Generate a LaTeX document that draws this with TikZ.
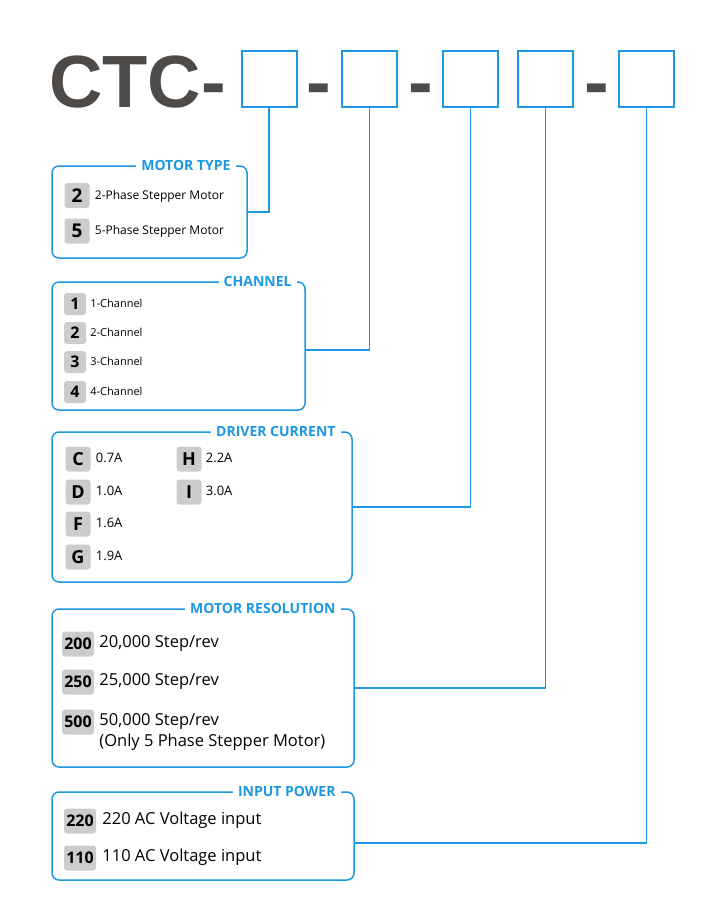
\documentclass[tikz,border=0pt]{standalone}
\usepackage{fontspec}
\setmainfont{Open Sans}
\newfontfamily\headfont{Liberation Sans}
\usetikzlibrary{positioning}

\definecolor{ctcblue}{RGB}{28,152,226}
\definecolor{ctcgray}{RGB}{77,74,72}
\definecolor{badgegray}{RGB}{204,204,204}
\newcommand{\pxsize}[1]{\fontsize{#1}{#1}\selectfont}

\begin{document}
\begin{tikzpicture}[
  x=1pt, y=-1pt,
  codebox/.style={draw=ctcblue, line width=2pt, minimum width=55pt, minimum height=56pt, inner sep=0pt},
  hyph/.style={text=ctcgray, font=\headfont\bfseries\pxsize{74}, inner sep=0pt, anchor=base},
  panel/.style={draw=ctcblue, line width=1.5pt, rounded corners=7pt, inner sep=0pt},
  title/.style={fill=white, text=ctcblue, font=\pxsize{14}\bfseries, inner xsep=5pt, inner ysep=1pt, anchor=east},
  badge/.style={fill=badgegray, rounded corners=3pt, inner sep=0pt, font=\bfseries},
  item/.style={inner sep=0pt, text height=0.8em, text depth=0.1em},
  wire/.style={draw=ctcblue, line width=1.2pt}
]
\useasboundingbox (0,0) rectangle (727,900);

% part number
\node[hyph, anchor=base west] (ctc) at (49,107) {CTC-};
\node[codebox] (c1) at (269,79) {};
\node[hyph] (d1) at (319,107) {-};
\node[codebox] (c2) at (369.5,79) {};
\node[hyph] (d2) at (420.5,107) {-};
\node[codebox] (c3) at (470.5,79) {};
\node[codebox] (c4) at (545.5,79) {};
\node[hyph] (d3) at (596.5,107) {-};
\node[codebox] (c5) at (646.5,79) {};

% motor type
\node[panel, minimum width=195pt, minimum height=92pt] (pType) at (149.5,212) {};
\node[title] at ([xshift=-12pt]pType.north east) {MOTOR TYPE};
\node[badge, minimum size=25pt, font=\bfseries\pxsize{19}] (bT2) at (77,195.5) {2};
\node[badge, minimum size=25pt, font=\bfseries\pxsize{19}] (bT5) at (77,231) {5};
\node[item, font=\pxsize{12}, right=5pt of bT2] {2-Phase Stepper Motor};
\node[item, font=\pxsize{12}, right=5pt of bT5] {5-Phase Stepper Motor};

% channel
\node[panel, minimum width=253pt, minimum height=128pt] (pCh) at (178.5,346) {};
\node[title] at ([xshift=-9pt]pCh.north east) {CHANNEL};
\node[badge, minimum size=22pt, font=\bfseries\pxsize{16}] (bC1) at (75,304) {1};
\node[badge, minimum size=22pt, font=\bfseries\pxsize{16}] (bC2) at (75,333) {2};
\node[badge, minimum size=22pt, font=\bfseries\pxsize{16}] (bC3) at (75,362) {3};
\node[badge, minimum size=22pt, font=\bfseries\pxsize{16}] (bC4) at (75,392) {4};
\node[item, font=\pxsize{11}, right=4pt of bC1] {1-Channel};
\node[item, font=\pxsize{11}, right=4pt of bC2] {2-Channel};
\node[item, font=\pxsize{11}, right=4pt of bC3] {3-Channel};
\node[item, font=\pxsize{11}, right=4pt of bC4] {4-Channel};

% driver current
\node[panel, minimum width=300pt, minimum height=150pt] (pDrv) at (202,507) {};
\node[title] at ([xshift=-12pt]pDrv.north east) {DRIVER CURRENT};
\node[badge, minimum size=25pt, font=\bfseries\pxsize{18}] (bDC) at (78,459) {C};
\node[badge, minimum size=25pt, font=\bfseries\pxsize{18}] (bDD) at (78,492) {D};
\node[badge, minimum size=25pt, font=\bfseries\pxsize{18}] (bDF) at (78,524) {F};
\node[badge, minimum size=25pt, font=\bfseries\pxsize{18}] (bDG) at (78,557) {G};
\node[badge, minimum size=25pt, font=\bfseries\pxsize{18}] (bDH) at (189,459) {H};
\node[badge, minimum size=25pt, font=\bfseries\pxsize{18}] (bDI) at (189,492) {I};
\node[item, font=\pxsize{13}, right=5pt of bDC] {0.7A};
\node[item, font=\pxsize{13}, right=5pt of bDD] {1.0A};
\node[item, font=\pxsize{13}, right=5pt of bDF] {1.6A};
\node[item, font=\pxsize{13}, right=5pt of bDG] {1.9A};
\node[item, font=\pxsize{13}, right=4pt of bDH] {2.2A};
\node[item, font=\pxsize{13}, right=4pt of bDI] {3.0A};

% motor resolution
\node[panel, minimum width=302pt, minimum height=158pt] (pRes) at (203,688) {};
\node[title] at ([xshift=-14pt]pRes.north east) {MOTOR RESOLUTION};
\node[badge, minimum width=32pt, minimum height=25pt, font=\bfseries\pxsize{16}] (bR200) at (78,644) {200};
\node[badge, minimum width=32pt, minimum height=25pt, font=\bfseries\pxsize{16}] (bR250) at (78,682) {250};
\node[badge, minimum width=32pt, minimum height=25pt, font=\bfseries\pxsize{16}] (bR500) at (78,722) {500};
\node[item, font=\pxsize{16.5}, right=5pt of bR200] {20,000 Step/rev};
\node[item, font=\pxsize{16.5}, right=5pt of bR250] {25,000 Step/rev};
\node[item, font=\pxsize{16.5}, right=5pt of bR500] (tR500) {50,000 Step/rev};
\node[item, font=\pxsize{16.5}, anchor=west] at ([yshift=-21pt]tR500.west) {(Only 5 Phase Stepper Motor)};

% input power
\node[panel, minimum width=302pt, minimum height=88pt] (pIn) at (203,836) {};
\node[title] at ([xshift=-14pt]pIn.north east) {INPUT POWER};
\node[badge, minimum width=32pt, minimum height=25pt, font=\bfseries\pxsize{16}] (bI220) at (80,821) {220};
\node[badge, minimum width=32pt, minimum height=25pt, font=\bfseries\pxsize{16}] (bI110) at (80,858) {110};
\node[item, font=\pxsize{16.5}, right=6pt of bI220] {220 AC Voltage input};
\node[item, font=\pxsize{16.5}, right=6pt of bI110] {110 AC Voltage input};

% connectors
\draw[wire] (c1.south) |- (pType.east);
\draw[wire] (c2.south) |- ([yshift=-4pt]pCh.east);
\draw[wire] (c3.south) |- (pDrv.east);
\draw[wire] (c4.south) |- (pRes.east);
\draw[wire] (c5.south) |- ([yshift=-7pt]pIn.east);
\end{tikzpicture}
\end{document}
